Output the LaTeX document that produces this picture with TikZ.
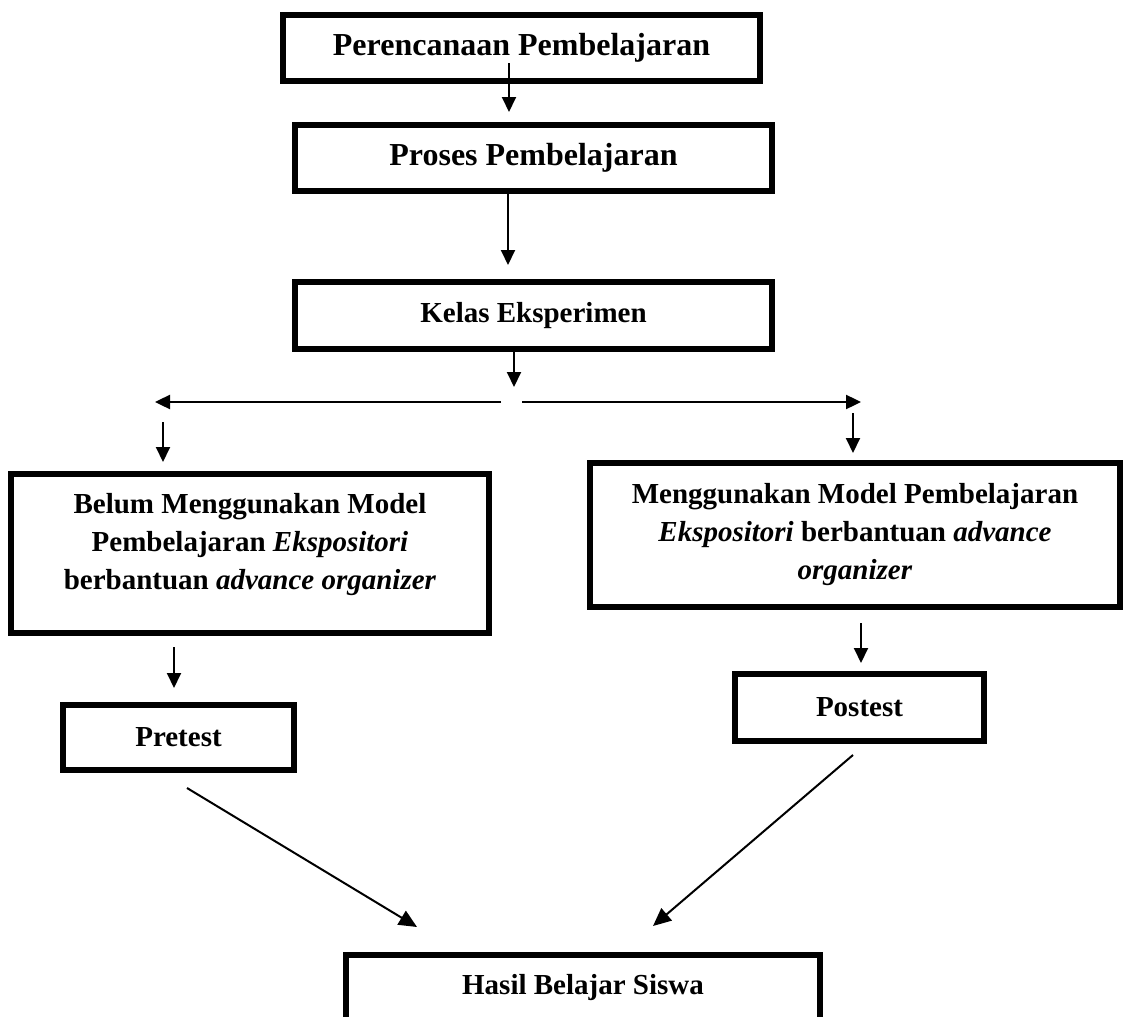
\documentclass[tikz,border=0pt]{standalone}
\usepackage{fontspec}
\setmainfont{Liberation Serif}
\usetikzlibrary{arrows.meta}
\begin{document}
\begin{tikzpicture}[x=0.5pt,y=-0.5pt,
  box/.style={draw=black, line width=3.2pt, inner sep=0pt, align=center,
              font=\bfseries\fontsize{14.5}{19}\selectfont},
  bigtext/.style={font=\bfseries\fontsize{16}{19}\selectfont},
  txt/.style={inner sep=0pt, align=center, font=\bfseries\fontsize{14.5}{19}\selectfont},
  arr/.style={line width=1pt, -{Triangle[length=7.5pt,width=7pt]}},
  darr/.style={line width=1pt, -{Triangle[length=9pt,width=8pt]}}]
\clip (0,0) rectangle (1126,1017);
\fill[white] (0,0) rectangle (1126,1017);

% boxes
\node[box, bigtext, minimum width=238.3pt, minimum height=32.8pt] (b1) at (521.5,48) {Perencanaan Pembelajaran};
\node[box, bigtext, minimum width=238.3pt, minimum height=32.8pt] (b2) at (533.5,158) {Proses Pembelajaran};
\node[box, minimum width=238.3pt, minimum height=33.3pt] (b3) at (533.5,315.5) {Kelas Eksperimen};
\node[box, minimum width=238.8pt, minimum height=79.3pt] (belum) at (250,553.5) {};
\node[txt] (belumtxt) at (250,545) {Belum Menggunakan Model\\ Pembelajaran \textit{Ekspositori}\\ berbantuan \textit{advance organizer}};
\node[box, minimum width=264.8pt, minimum height=71.8pt] (meng) at (855,535) {Menggunakan Model Pembelajaran\\ \textit{Ekspositori} berbantuan \textit{advance}\\ \textit{organizer}};
\node[box, minimum width=115.3pt, minimum height=32.3pt] (pre) at (178.5,737.5) {Pretest};
\node[box, minimum width=124.3pt, minimum height=33.3pt] (post) at (859.5,707.5) {Postest};
\node[box, minimum width=236.8pt, minimum height=32.8pt] (hasil) at (583,988) {Hasil Belajar Siswa};

% connector end points
\coordinate (a1s) at (509,63);   \coordinate (a1e) at (509,112);
\coordinate (a2s) at (508,194);  \coordinate (a2e) at (508,265);
\coordinate (a3s) at (514,352);  \coordinate (a3e) at (514,387);
\coordinate (sl) at (501,402);   \coordinate (slt) at (155,402);
\coordinate (sr) at (522,402);   \coordinate (srt) at (861,402);
\coordinate (dls) at (163,422);  \coordinate (dle) at (163,462);
\coordinate (drs) at (853,413);  \coordinate (dre) at (853,453);
\coordinate (bps) at (174,647);  \coordinate (bpe) at (174,688);
\coordinate (mps) at (861,623);  \coordinate (mpe) at (861,663);
\coordinate (phs) at (187,788);  \coordinate (phe) at (417,927);
\coordinate (qhs) at (853,755);  \coordinate (qhe) at (653,926);

% connectors
\draw[arr] (a1s) -- (a1e);
\draw[arr] (a2s) -- (a2e);
\draw[arr] (a3s) -- (a3e);
\draw[arr, line width=1.2pt] (sl) -- (slt);
\draw[arr, line width=1.2pt] (sr) -- (srt);
\draw[arr] (dls) -- (dle);
\draw[arr] (drs) -- (dre);
\draw[arr] (bps) -- (bpe);
\draw[arr] (mps) -- (mpe);
\draw[darr] (phs) -- (phe);
\draw[darr] (qhs) -- (qhe);
\end{tikzpicture}
\end{document}
